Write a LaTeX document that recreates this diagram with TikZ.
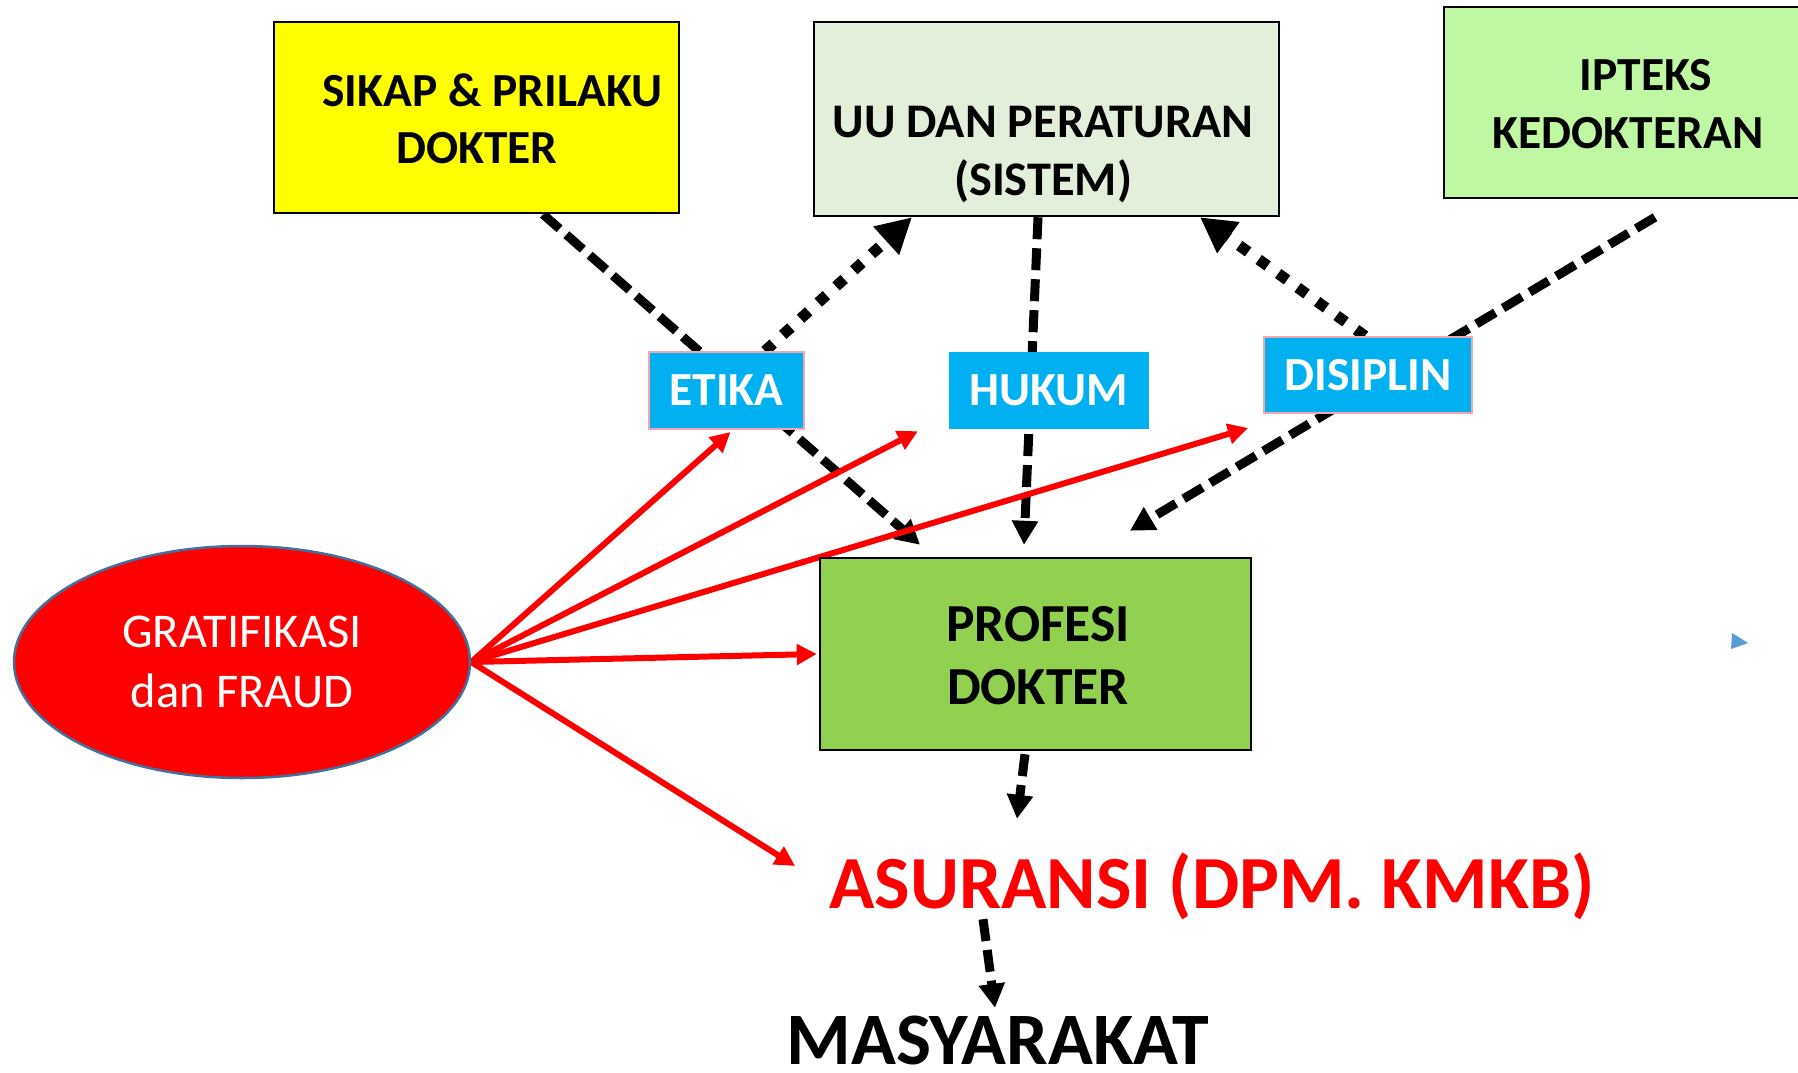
\documentclass[tikz,border=0pt]{standalone}
\usepackage{fontspec}
\setmainfont{Carlito}
\usetikzlibrary{arrows.meta,shapes.geometric}

\definecolor{tagblue}{HTML}{00B0F0}
\definecolor{tagpink}{HTML}{F4A6B0}
\definecolor{sikapfill}{HTML}{FFFF00}
\definecolor{uufill}{HTML}{E2EFDA}
\definecolor{iptfill}{HTML}{C0F7A3}
\definecolor{profill}{HTML}{92D050}
\definecolor{ovalrim}{HTML}{41719C}
\definecolor{markblue}{HTML}{5B9BD5}

\pgfdeclarelayer{links}
\pgfsetlayers{links,main}

\begin{document}
\begin{tikzpicture}[x=1pt,y=-1pt,
  panel/.style={draw=black, line width=2.5pt, inner sep=0pt},
  paneltext/.style={font=\fontsize{47.5}{57.5}\selectfont\bfseries, align=center, inner sep=0pt, text=black},
  tag/.style={fill=tagblue, inner sep=0pt, font=\fontsize{47.5}{56}\selectfont\bfseries, text=white},
  dashlink/.style={line width=9pt, dash pattern=on 22pt off 9pt, -{Triangle[length=24pt,width=25pt]}},
  dotlink/.style={line width=11pt, dash pattern=on 11pt off 13pt, -{Triangle[length=35pt,width=36pt]}},
  redlink/.style={draw=red, line width=6pt, -{Triangle[length=20pt,width=20pt]}},
]
\clip (0,0) rectangle (1798,1072);

% top panels
\node[panel, fill=sikapfill, minimum width=405pt, minimum height=191pt] (sikap) at (476.5,117.5) {};
\node[paneltext] (sikaptxt) at (477,119) {\hspace*{31pt}SIKAP \& PRILAKU\\DOKTER};

\node[panel, fill=uufill, minimum width=465pt, minimum height=194pt] (uu) at (1046.5,119) {};
\node[paneltext, font=\fontsize{48.3}{58}\selectfont\bfseries] (uutxt) at (1043,154) {UU DAN PERATURAN\\(SISTEM)};

\node[panel, fill=iptfill, minimum width=366pt, minimum height=191pt] (ipteks) at (1627,102.5) {};
\node[paneltext] (iptekstxt) at (1628,104) {\hspace*{36pt}IPTEKS\\KEDOKTERAN};

% central panel
\node[panel, fill=profill, minimum width=431pt, minimum height=192pt] (profesi) at (1035.5,654) {};
\node[paneltext, font=\fontsize{53.5}{63}\selectfont\bfseries] (profesitxt) at (1038,656) {PROFESI\\DOKTER};

% oval
\node[ellipse, fill=red, draw=ovalrim, line width=2.5pt, minimum width=456pt, minimum height=232pt,
  inner sep=0pt, align=center, text=white, font=\fontsize{48.5}{60}\selectfont] (gratif) at (242,662)
  {GRATIFIKASI\\dan FRAUD};

% small tags
\node[tag, draw=tagpink, line width=2pt, minimum width=155pt, minimum height=77pt] (etika) at (726.5,390.5) {ETIKA};
\node[tag, minimum width=200pt, minimum height=77pt] (hukum) at (1049,390.5) {HUKUM};
\node[tag, draw=tagpink, line width=2pt, minimum width=208pt, minimum height=76pt] (disiplin) at (1368,375) {DISIPLIN};

% bottom texts
\node[anchor=base, inner sep=0pt, text height=50pt, text depth=12pt, text=red,
  font=\fontsize{75}{80}\selectfont\bfseries] (asuransi) at (1212,908) {ASURANSI (DPM. KMKB)};
\node[anchor=base, inner sep=0pt, text height=48pt, text depth=0pt,
  font=\fontsize{74}{80}\selectfont\bfseries] (masyarakat) at (998,1064) {MASYARAKAT};

% small marker
\fill[markblue] (1732,633) -- (1748,643) -- (1731,649) -- cycle;

\begin{pgfonlayer}{links}
\fill[white] (0,0) rectangle (1798,1072);
% black links
\draw[dashlink] ([xshift=66.5pt]sikap.south) -- ([xshift=-115.5pt,yshift=12pt]profesi.north);
\draw[dashlink] ([xshift=-8.5pt]uu.south) -- ([xshift=-11.5pt,yshift=12pt]profesi.north);
\draw[dashlink] ([xshift=28pt,yshift=-18pt]ipteks.south) -- ([xshift=94.5pt,yshift=26pt]profesi.north);
\draw[dotlink] ([xshift=38.5pt]etika.north) -- ([xshift=-134.5pt]uu.south);
\draw[dotlink] ([xshift=-3pt]disiplin.north) -- ([xshift=153.5pt]uu.south);
\draw[dashlink] ([xshift=-10.5pt,yshift=-3pt]profesi.south) -- ([xshift=-195pt,yshift=39pt]asuransi.north);
\draw[dashlink] ([xshift=-229pt,yshift=1pt]asuransi.south) -- ([xshift=-3pt,yshift=8pt]masyarakat.north);
% red links
\draw[redlink] (gratif.east) -- ([xshift=4pt,yshift=-2pt]etika.south);
\draw[redlink] (gratif.east) -- ([xshift=-31pt,yshift=-2pt]hukum.south west);
\draw[redlink] (gratif.east) -- ([xshift=-15pt,yshift=-14pt]disiplin.south west);
\draw[redlink] (gratif.east) -- ([xshift=-2pt]profesi.west);
\draw[redlink] (gratif.east) -- ([xshift=-34pt,yshift=42pt]asuransi.base west);
\end{pgfonlayer}
\end{tikzpicture}
\end{document}
